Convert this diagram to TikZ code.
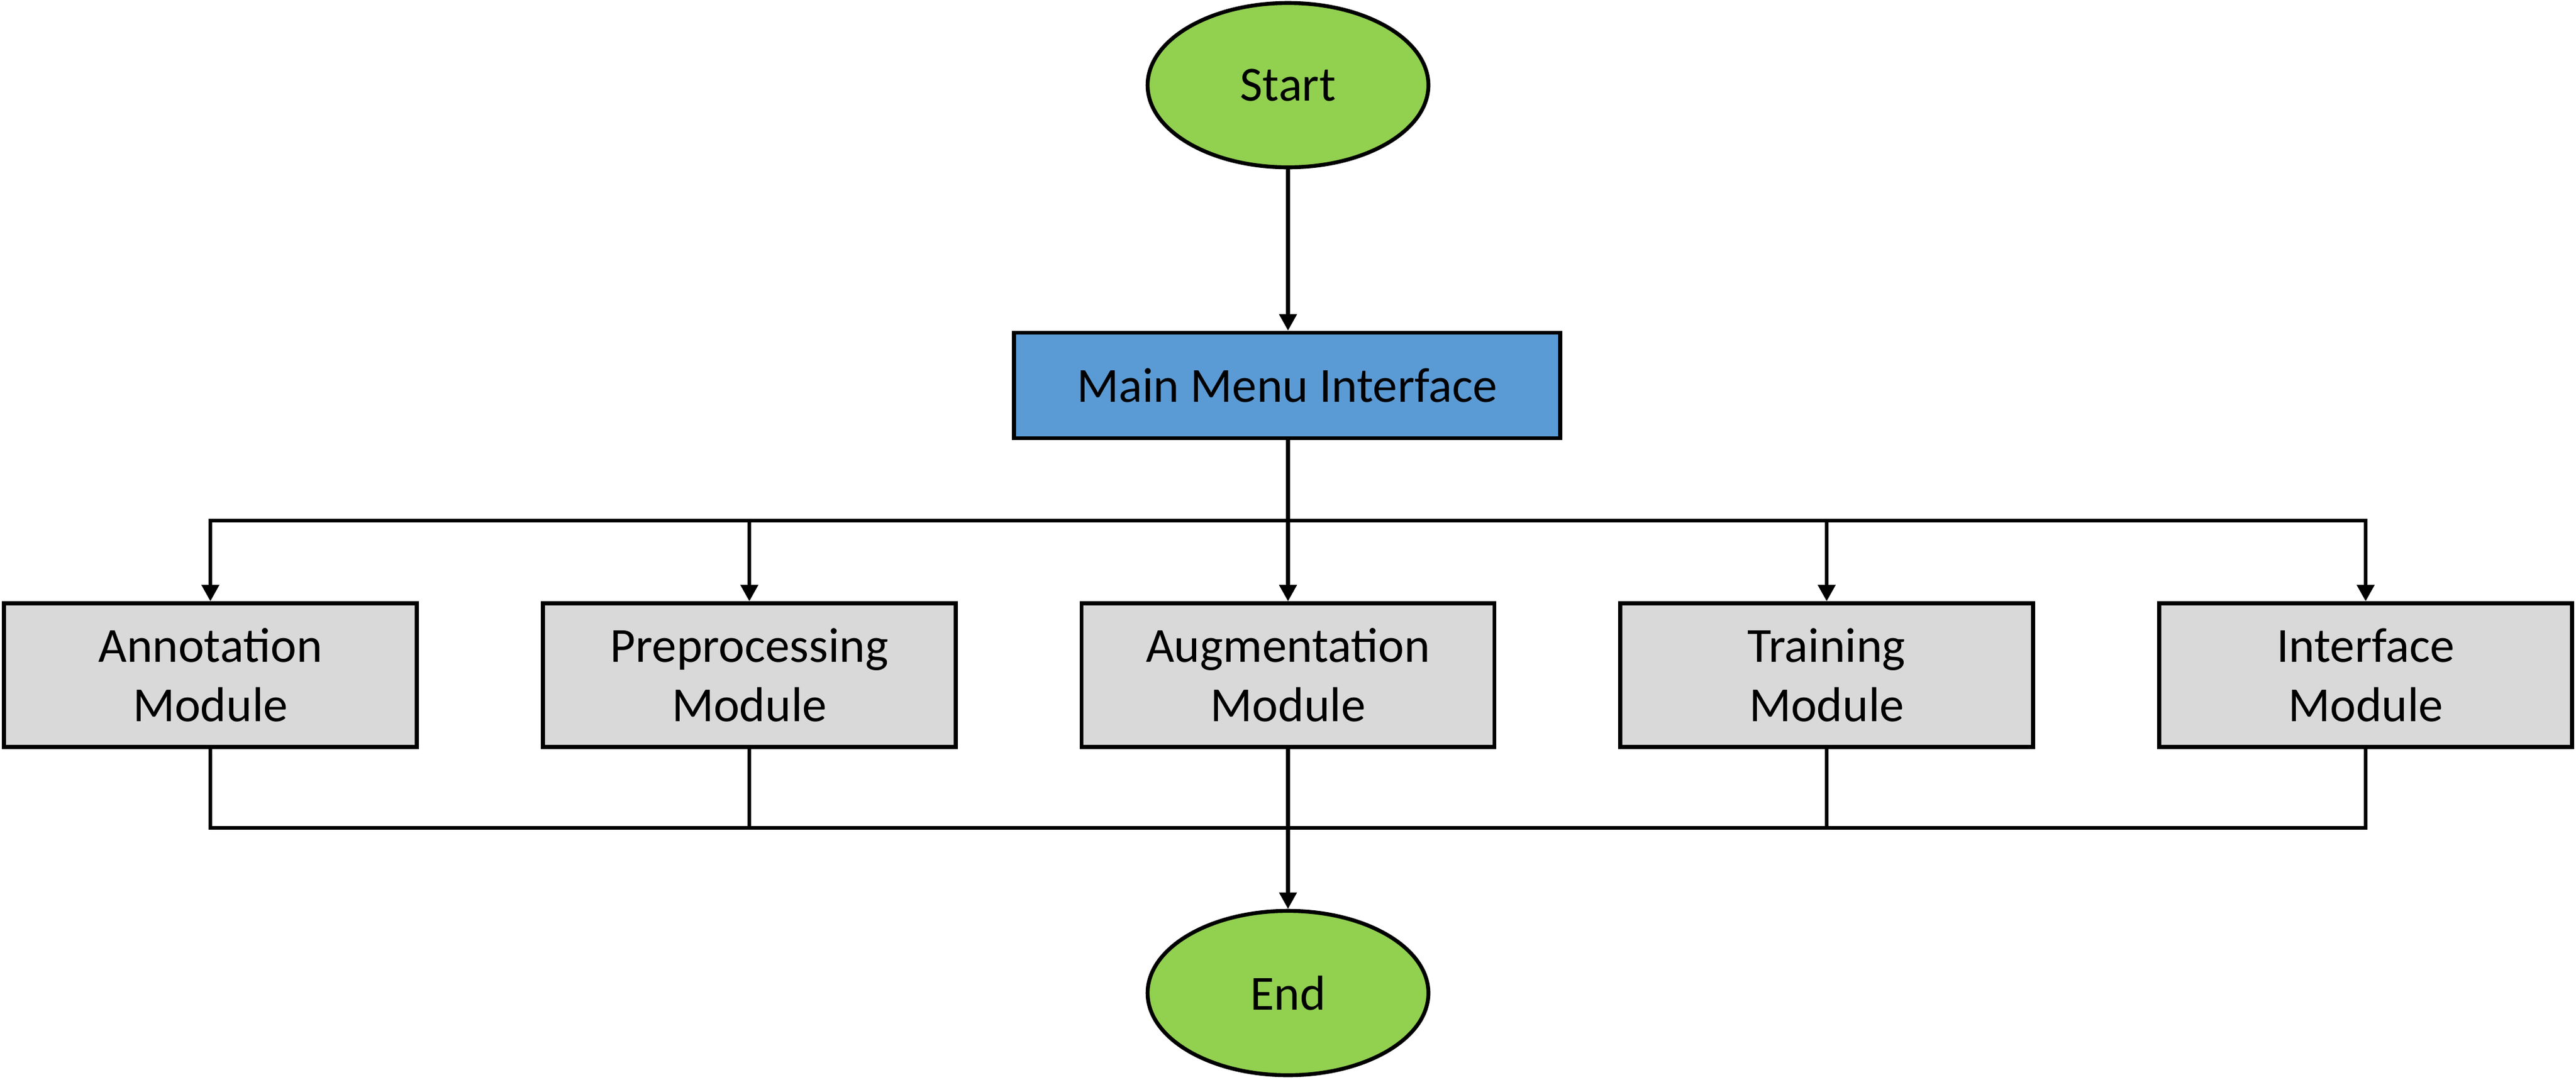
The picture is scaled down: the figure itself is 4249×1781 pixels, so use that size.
\documentclass[tikz,border=0pt]{standalone}
\usepackage{fontspec}
\setmainfont{Carlito}
\usetikzlibrary{arrows.meta,shapes.geometric}
\definecolor{termgreen}{HTML}{92D050}
\definecolor{menublue}{HTML}{5B9BD5}
\definecolor{modgrey}{HTML}{D9D9D9}
\begin{document}
\begin{tikzpicture}[x=0.25pt,y=-0.25pt,
  every node/.style={font=\fontsize{20.25pt}{24.5pt}\selectfont, line width=1.6pt, draw=black, inner sep=0pt, align=center},
  term/.style={ellipse, fill=termgreen, minimum width=115.8pt, minimum height=67.8pt},
  menubox/.style={rectangle, fill=menublue, minimum width=225.3pt, minimum height=43.6pt},
  modbox/.style={rectangle, fill=modgrey, minimum width=170.3pt, minimum height=59.3pt},
  conn/.style={line width=1.6pt, draw=black},
  arr/.style={conn, -{Triangle[width=7pt,length=6.8pt]}}]
\useasboundingbox (0,0) rectangle (4249,1781);
\node[term] (start) at (2124.5,140.5) {Start};
\node[menubox] (main) at (2123,636) {Main Menu Interface};
\node[modbox] (m1) at (347,1114) {Annotation\\Module};
\node[modbox] (m2) at (1236,1114) {Preprocessing\\Module};
\node[modbox] (m3) at (2124.5,1114) {Augmentation\\Module};
\node[modbox] (m4) at (3013,1114) {Training\\Module};
\node[modbox] (m5) at (3902,1114) {Interface\\Module};
\node[term] (end) at (2124.5,1638.5) {End};
\coordinate (bus) at (2124.5,859);
\coordinate (join) at (2124.5,1366);
\draw[arr] (start.south) -- (start.south |- main.north);
\draw[conn] (main.south -| bus) -- (bus);
\draw[arr] (bus) -| (m1.north);
\draw[arr] (bus) -| (m2.north);
\draw[arr] (bus) -- (m3.north);
\draw[arr] (bus) -| (m4.north);
\draw[arr] (bus) -| (m5.north);
\draw[conn] (m1.south) |- (join);
\draw[conn] (m2.south) |- (join);
\draw[conn] (m4.south) |- (join);
\draw[conn] (m5.south) |- (join);
\draw[arr] (m3.south) -- (end.north);
\end{tikzpicture}
\end{document}
